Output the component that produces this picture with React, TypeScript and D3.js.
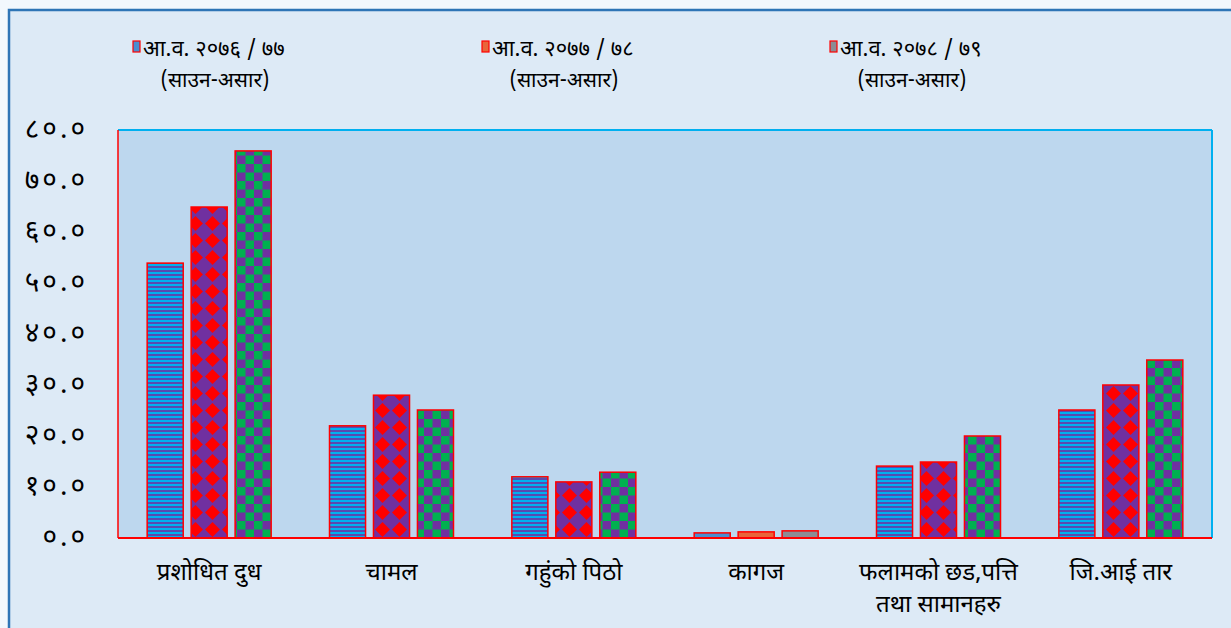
import { useEffect, useRef } from 'react'
import * as d3 from 'd3'

const categories = ['प्रशोधित दुध', 'चामल', 'गहुंको पिठो', 'कागज', 'फलामको छड,पत्ति|तथा सामानहरु', 'जि.आई तार']
const series = ['y2076', 'y2077', 'y2078']
const seriesLabels = ['आ.व. २०७६ / ७७', 'आ.व. २०७७ / ७८', 'आ.व. २०७८ / ७९']
const seriesSub = '(साउन-असार)'
const y2076 = [53.9, 22.0, 12.0, 1.0, 14.1, 25.1]
const y2077 = [64.9, 28.0, 11.0, 1.2, 14.9, 30.0]
const y2078 = [75.9, 25.1, 12.9, 1.4, 20.0, 34.9]
const yTicks = [0, 10, 20, 30, 40, 50, 60, 70, 80]

const DEV = '०१२३४५६७८९'
const toDev = (s: string) => s.replace(/[0-9]/g, d => DEV[+d])
const FONT = '"Noto Sans Devanagari", "Lohit Devanagari", "Noto Sans", sans-serif'

export default function App() {
  const svgRef = useRef<SVGSVGElement>(null)

  useEffect(() => {
    if (!svgRef.current) return
    const svg = d3.select(svgRef.current)
    svg.selectAll('*').remove()
    const W = 1231, H = 628
    const margin = { top: 130, right: 19, bottom: 90, left: 118 }
    const w = W - margin.left - margin.right
    const h = H - margin.top - margin.bottom

    // patterns
    const defs = svg.append('defs')
    const p1 = defs.append('pattern').attr('id', 'pStripe').attr('patternUnits', 'userSpaceOnUse')
      .attr('width', 4).attr('height', 4)
    p1.append('rect').attr('width', 4).attr('height', 4).attr('fill', '#00B0F0')
    p1.append('rect').attr('width', 4).attr('height', 2).attr('fill', '#7030A0').attr('opacity', 0.8)

    const p2 = defs.append('pattern').attr('id', 'pDiamond').attr('patternUnits', 'userSpaceOnUse')
      .attr('width', 17).attr('height', 17).attr('x', 1).attr('y', 0)
    p2.append('rect').attr('width', 17).attr('height', 17).attr('fill', '#7030A0')
    p2.append('path').attr('d', 'M8.5,1 L16,8.5 L8.5,16 L1,8.5 Z').attr('fill', '#FF0000')

    const p3 = defs.append('pattern').attr('id', 'pCheck').attr('patternUnits', 'userSpaceOnUse')
      .attr('width', 17).attr('height', 17)
    p3.append('rect').attr('width', 17).attr('height', 17).attr('fill', '#7030A0')
    p3.append('rect').attr('width', 8.5).attr('height', 8.5).attr('fill', '#00B050')
    p3.append('rect').attr('x', 8.5).attr('y', 8.5).attr('width', 8.5).attr('height', 8.5).attr('fill', '#00B050')

    const fills = ['url(#pStripe)', 'url(#pDiamond)', 'url(#pCheck)']
    const swatch = ['#4A8ED0', '#E8653A', '#8C8C94']

    // backgrounds
    svg.append('rect').attr('width', W).attr('height', H).attr('fill', '#F2F8FD')
    svg.append('rect').attr('x', 9).attr('y', 10).attr('width', W).attr('height', H)
      .attr('fill', '#DDEAF6').attr('stroke', '#2E75B6').attr('stroke-width', 2.5)

    const g = svg.append('g').attr('transform', `translate(${margin.left},${margin.top})`)
    g.append('rect').attr('width', w).attr('height', h).attr('fill', '#BDD7EE')
    g.append('line').attr('x1', 0).attr('x2', w).attr('y1', 0).attr('y2', 0).attr('stroke', '#00B0F0').attr('stroke-width', 2)
    g.append('line').attr('x1', w).attr('x2', w).attr('y1', 0).attr('y2', h).attr('stroke', '#00B0F0').attr('stroke-width', 2)
    g.append('line').attr('x1', 0).attr('x2', 0).attr('y1', 0).attr('y2', h).attr('stroke', '#FF0000').attr('stroke-width', 1.5)

    const x0 = d3.scaleBand().domain(categories).range([0, w])
    const x1 = d3.scaleBand().domain(series).range([0, 124]).paddingInner(0.18)
    const y = d3.scaleLinear().domain([0, 80]).range([h, 0])

    const data = [y2076, y2077, y2078]
    categories.forEach((c, ci) => {
      const gx = x0(c)! + x0.bandwidth() / 2 - 62
      series.forEach((s, si) => {
        const v = data[si][ci]
        g.append('rect')
          .attr('x', gx + x1(s)!).attr('y', y(v))
          .attr('width', x1.bandwidth()).attr('height', h - y(v))
          .attr('fill', ci === 3 ? swatch[si] : fills[si])
          .attr('stroke', '#FF0000').attr('stroke-width', 1.5)
      })
    })

    // axis line
    g.append('line').attr('x1', 0).attr('x2', w).attr('y1', h).attr('y2', h).attr('stroke', '#FF0000').attr('stroke-width', 2)

    // y axis labels
    const yAxis = d3.axisLeft(y).tickValues(yTicks).tickSize(0).tickPadding(30)
      .tickFormat(d => toDev((d as number).toFixed(1)))
    const ya = g.append('g').call(yAxis)
    ya.select('.domain').remove()
    ya.selectAll('text').attr('font-family', FONT).attr('font-size', 28).attr('letter-spacing', 3)
      .attr('fill', '#000').attr('dy', '0.25em')

    // x labels
    categories.forEach(c => {
      const lines = c.split('|')
      const t = g.append('text').attr('x', x0(c)! + x0.bandwidth() / 2).attr('y', h + 42)
        .attr('text-anchor', 'middle').attr('font-family', FONT).attr('font-size', 24).attr('fill', '#000')
      lines.forEach((l, i) => t.append('tspan').attr('x', x0(c)! + x0.bandwidth() / 2).attr('dy', i === 0 ? 0 : 32).text(l))
    })

    // legend
    const legX = [133, 482, 830]
    seriesLabels.forEach((lab, i) => {
      svg.append('rect').attr('x', legX[i]).attr('y', 41).attr('width', 7).attr('height', 11)
        .attr('fill', swatch[i]).attr('stroke', '#FF0000').attr('stroke-width', 1.2)
      svg.append('text').attr('x', legX[i] + 10).attr('y', 56).attr('font-family', FONT)
        .attr('font-size', 22).attr('fill', '#000').text(lab)
      svg.append('text').attr('x', legX[i] + 82).attr('y', 87).attr('text-anchor', 'middle').attr('font-family', FONT)
        .attr('font-size', 21).attr('fill', '#000').text(seriesSub)
    })
  }, [])

  return (
    <svg ref={svgRef} width={1231} height={628} style={{ position: 'fixed', left: 0, top: 0 }} />
  )
}
